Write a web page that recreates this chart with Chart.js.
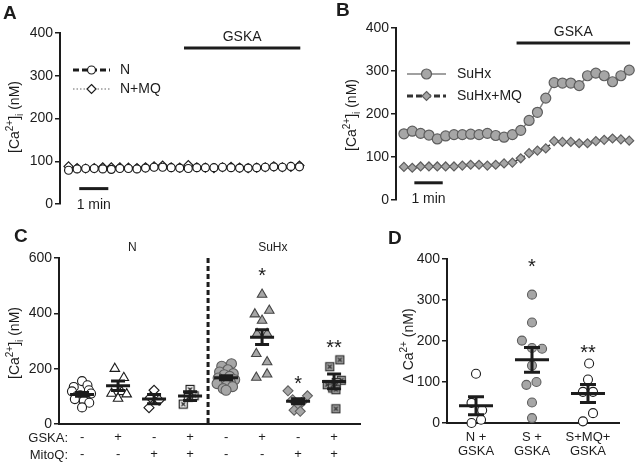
<!DOCTYPE html>
<html>
<head>
<meta charset="utf-8">
<style>
html, body { margin: 0; padding: 0; background: #fff; }
#wrap { position: relative; width: 640px; height: 465px; overflow: hidden; }
#wrap canvas { position: absolute; left: 0; top: 0; }
</style>
<script src="https://cdn.jsdelivr.net/npm/chart.js"></script>
</head>
<body>
<div id="wrap">
  <canvas id="chartA" width="640" height="465"></canvas>
  <canvas id="chartB" width="640" height="465"></canvas>
  <canvas id="chartC" width="640" height="465"></canvas>
  <canvas id="chartD" width="640" height="465"></canvas>
</div>
<script>
// ---- data ----

// A / B: [Ca2+]i traces (nM), one value per sample
const nTrace      = [79, 82, 83, 83, 82, 81, 83, 83, 82, 84, 86, 86, 85, 84, 83, 85, 85, 85, 86, 85, 84, 84, 85, 86, 87, 86, 88, 87];
const nMqTrace    = [88, 84, 83, 84, 86, 86, 86, 85, 84, 86, 88, 90, 86, 85, 91, 86, 85, 84, 86, 87, 85, 84, 85, 86, 88, 86, 87, 90];
const suhxTrace   = [154, 160, 155, 151, 142, 149, 152, 152, 153, 152, 155, 150, 146, 152, 162, 185, 204, 237, 273, 272, 272, 266, 289, 295, 289, 275, 289, 302];
const suhxMqTrace = [77, 75, 78, 78, 78, 78, 78, 80, 82, 82, 80, 82, 85, 87, 97, 109, 115, 120, 137, 135, 135, 132, 132, 137, 140, 143, 141, 138];
const gskaWindow  = [13.5, 27.1];   // samples under GSKA
const minuteBar   = [1.25, 4.65];   // 1 min scale bar, in samples

// C: individual cells per group
const gskaRow  = ['-', '+', '-', '+', '-', '+', '-', '+'];
const mitoqRow = ['-', '-', '+', '+', '-', '-', '+', '+'];
const cValues = [
  [155, 140, 134, 122, 118, 110, 104, 101, 98, 90, 84, 77, 60],
  [200, 167, 116, 110, 108, 92],
  [122, 96, 86, 59],
  [125, 102, 96, 72],
  [218, 209, 196, 188, 182, 178, 172, 166, 160, 155, 150, 146, 140, 135, 128, 122],
  [468, 410, 397, 374, 326, 326, 254, 224, 180, 168],
  [120, 102, 88, 78, 72, 50, 46],
  [232, 207, 158, 150, 142, 130, 124, 55]
];
const cJitter = [
  [0, 0.15, -0.23, 0.19, -0.28, 0.25, -0.05, -0.14, 0.09, -0.2, 0.05, 0.2, 0],
  [-0.09, 0.16, 0.1, -0.18, 0.24, 0],
  [0, -0.1, 0.14, -0.14],
  [0, 0.11, -0.05, -0.19],
  [0.15, -0.12, 0.05, -0.18, 0.2, -0.05, 0.1, -0.22, 0.24, -0.1, 0.12, -0.25, 0.02, 0.18, -0.08, 0],
  [0, 0.2, -0.2, 0, -0.14, 0.14, -0.16, 0.14, 0.14, -0.16],
  [-0.28, 0.26, -0.15, 0.1, 0, -0.11, 0.06],
  [0.16, -0.12, 0.2, 0.06, -0.19, -0.04, 0.05, 0.05]
];
const cMean = [107, 138, 90, 101, 167, 314, 82, 154];
const cSem  = [7, 17, 17, 16, 7, 27, 9, 27];
const cStars = ['', '', '', '', '', '*', '*', '**'];

// D: delta Ca2+ on GSKA
const dLabels = [['N +', 'GSKA'], ['S +', 'GSKA'], ['S+MQ+', 'GSKA']];
const dValues = [
  [120, 49, 31, 8, 0],
  [313, 245, 201, 181, 183, 140, 93, 100, 50, 12],
  [145, 106, 76, 76, 24, 4]
];
const dJitter = [
  [0, -0.08, 0.11, 0.09, -0.08],
  [0, 0, -0.18, 0.18, 0, 0, -0.1, 0.08, 0, 0],
  [0.02, 0, -0.09, 0.09, 0.09, -0.09]
];
const dMean = [42, 154, 72];
const dSem  = [22, 30, 22];
const dStars = ['', '*', '**'];

// ---- styling helpers ----
const FONT = '"Liberation Sans", Arial, Helvetica, sans-serif';
const INK = '#1c1c1c';
const GREY = '#a6a6a6';
const GREY_EDGE = '#5e5e5e';

const caTitle = [{t: '[Ca'}, {t: '2+', s: 1}, {t: ']'}, {t: 'i', s: -1}, {t: ' (nM)'}];
const deltaTitle = [{t: '\u0394 Ca'}, {t: '2+', s: 1}, {t: ' (nM)'}];

function boxCross(fill, edge) {
  // square marker with an x inside
  const c = document.createElement('canvas');
  c.width = 11; c.height = 11;
  const g = c.getContext('2d');
  g.fillStyle = fill;
  g.fillRect(1, 1, 9, 9);
  g.strokeStyle = edge;
  g.lineWidth = 1.2;
  g.strokeRect(1.5, 1.5, 8, 8);
  g.beginPath();
  g.moveTo(3.5, 3.5); g.lineTo(7.5, 7.5);
  g.moveTo(7.5, 3.5); g.lineTo(3.5, 7.5);
  g.stroke();
  return c;
}

function yAxis(max, step) {
  return {
    min: 0, max: max,
    afterFit: s => { s.width = 45; },
    ticks: { stepSize: step, color: INK, font: { family: FONT, size: 14 }, padding: 2 },
    grid: { drawOnChartArea: false, drawTicks: true, tickLength: 5, color: INK, lineWidth: 1.5 },
    border: { display: true, color: INK, width: 2 }
  };
}

function baseOptions(padding, xScale, yScale) {
  return {
    responsive: false,
    animation: false,
    devicePixelRatio: 1,
    layout: { padding: padding },
    scales: { x: xScale, y: yScale },
    plugins: { legend: { display: false }, tooltip: { enabled: false } }
  };
}

function vTitle(ctx, parts, cx, cy, size) {
  ctx.save();
  ctx.translate(cx, cy);
  ctx.rotate(-Math.PI / 2);
  ctx.fillStyle = INK;
  ctx.textAlign = 'left';
  ctx.textBaseline = 'alphabetic';
  const small = Math.round(size * 0.68);
  const fontOf = p => (p.s ? small : size) + 'px ' + FONT;
  const widths = parts.map(p => { ctx.font = fontOf(p); return ctx.measureText(p.t).width; });
  let x = -widths.reduce((a, b) => a + b, 0) / 2;
  const base = size * 0.36;
  parts.forEach((p, i) => {
    ctx.font = fontOf(p);
    const dy = p.s === 1 ? -size * 0.42 : (p.s === -1 ? size * 0.25 : 0);
    ctx.fillText(p.t, x, base + dy);
    x += widths[i];
  });
  ctx.restore();
}

function text(ctx, str, x, y, size, align, bold) {
  ctx.font = (bold ? 'bold ' : '') + size + 'px ' + FONT;
  ctx.fillStyle = INK;
  ctx.textAlign = align || 'center';
  ctx.textBaseline = 'middle';
  ctx.fillText(str, x, y);
}

function hBar(ctx, x0, x1, y, w) {
  ctx.strokeStyle = INK;
  ctx.lineWidth = w;
  ctx.setLineDash([]);
  ctx.beginPath();
  ctx.moveTo(x0, y);
  ctx.lineTo(x1, y);
  ctx.stroke();
}

function marker(ctx, style, x, y, r, fill, edge) {
  ctx.setLineDash([]);
  ctx.beginPath();
  if (style === 'rectRot') {
    ctx.moveTo(x, y - r); ctx.lineTo(x + r, y); ctx.lineTo(x, y + r); ctx.lineTo(x - r, y); ctx.closePath();
  } else {
    ctx.arc(x, y, r, 0, Math.PI * 2);
  }
  ctx.fillStyle = fill;
  ctx.fill();
  ctx.lineWidth = 1.2;
  ctx.strokeStyle = edge;
  ctx.stroke();
}

function star(ctx, str, x, yCenter) {
  ctx.font = '20px ' + FONT;
  ctx.fillStyle = INK;
  ctx.textAlign = 'center';
  ctx.textBaseline = 'alphabetic';
  ctx.fillText(str, x, yCenter + 11);
}

function meanSem(ctx, xs, ys, cx, mean, sem, halfW, capW) {
  const px = xs.getPixelForValue(cx);
  const pm = ys.getPixelForValue(mean);
  const pt = ys.getPixelForValue(mean + sem);
  const pb = ys.getPixelForValue(mean - sem);
  ctx.strokeStyle = INK;
  ctx.lineWidth = 3;
  ctx.setLineDash([]);
  ctx.beginPath();
  ctx.moveTo(px - halfW, pm); ctx.lineTo(px + halfW, pm);
  ctx.moveTo(px, pt); ctx.lineTo(px, pb);
  ctx.moveTo(px - capW, pt); ctx.lineTo(px + capW, pt);
  ctx.moveTo(px - capW, pb); ctx.lineTo(px + capW, pb);
  ctx.stroke();
}

// ---- A and B: time courses ----
function traceSet(label, values, st) {
  return {
    label: label,
    data: values.map((v, i) => ({ x: i, y: v })),
    showLine: true,
    borderColor: st.color,
    borderWidth: st.width,
    borderDash: st.dash,
    pointStyle: st.style,
    pointRadius: st.r,
    pointBackgroundColor: st.fill,
    pointBorderColor: st.edge,
    pointBorderWidth: 1.2,
    clip: false
  };
}

function traceDecor(cfg) {
  return {
    id: 'traceDecor',
    afterDraw(chart) {
      const { ctx, scales: { x, y } } = chart;
      ctx.save();
      // GSKA application
      const gy = y.getPixelForValue(365);
      const gx0 = x.getPixelForValue(gskaWindow[0]);
      const gx1 = x.getPixelForValue(gskaWindow[1]);
      hBar(ctx, gx0, gx1, gy, 3);
      text(ctx, 'GSKA', (gx0 + gx1) / 2, gy - 11, 14);
      // 1 min scale bar
      const my = y.getPixelForValue(cfg.minuteLevel);
      const mx0 = x.getPixelForValue(minuteBar[0]);
      const mx1 = x.getPixelForValue(minuteBar[1]);
      hBar(ctx, mx0, mx1, my, 3);
      text(ctx, '1 min', (mx0 + mx1) / 2, my + 16.5, 14);
      // legend, styled from the datasets
      chart.data.datasets.forEach((ds, i) => {
        const ly = cfg.legend.y + i * cfg.legend.gap;
        ctx.strokeStyle = ds.borderColor;
        ctx.lineWidth = cfg.legend.lw[i];
        ctx.setLineDash(cfg.legend.dash[i]);
        ctx.beginPath();
        ctx.moveTo(cfg.legend.x0, ly);
        ctx.lineTo(cfg.legend.x1, ly);
        ctx.stroke();
        marker(ctx, ds.pointStyle, (cfg.legend.x0 + cfg.legend.x1) / 2, ly, ds.pointRadius,
               ds.pointBackgroundColor, ds.pointBorderColor);
        text(ctx, ds.label, cfg.legend.tx, ly, 14, 'left');
      });
      vTitle(ctx, caTitle, cfg.titleX, cfg.titleY, 14);
      text(ctx, cfg.letter, cfg.letterX, cfg.letterY, 19, 'left', true);
      ctx.restore();
    }
  };
}

new Chart(document.getElementById('chartA'), {
  type: 'scatter',
  data: {
    datasets: [
      traceSet('N', nTrace, { color: INK, width: 2, dash: [6, 3], style: 'circle', r: 4, fill: '#fff', edge: INK }),
      traceSet('N+MQ', nMqTrace, { color: '#666', width: 1.2, dash: [1.5, 2], style: 'rectRot', r: 4.5, fill: '#fff', edge: INK })
    ]
  },
  options: baseOptions({ left: 15, top: 33, right: 332, bottom: 261 },
    { type: 'linear', display: false, min: -1, max: 28 }, yAxis(400, 100)),
  plugins: [traceDecor({
    minuteLevel: 36, letter: 'A', letterX: 3, letterY: 14, titleX: 14, titleY: 117,
    legend: { x0: 73, x1: 110, tx: 120, y: 70, gap: 19, lw: [3, 1.2], dash: [[6, 3], [1.5, 2]] }
  })]
});

new Chart(document.getElementById('chartB'), {
  type: 'scatter',
  data: {
    datasets: [
      traceSet('SuHx', suhxTrace, { color: '#808080', width: 1.5, dash: [], style: 'circle', r: 5, fill: GREY, edge: GREY_EDGE }),
      traceSet('SuHx+MQ', suhxMqTrace, { color: '#333', width: 1.5, dash: [4, 3], style: 'rectRot', r: 4.5, fill: GREY, edge: GREY_EDGE })
    ]
  },
  options: baseOptions({ left: 351, top: 28, right: 0, bottom: 265 },
    { type: 'linear', display: false, min: -0.95, max: 27.55 }, yAxis(400, 100)),
  plugins: [traceDecor({
    minuteLevel: 40, letter: 'B', letterX: 336, letterY: 11, titleX: 351, titleY: 115,
    legend: { x0: 407, x1: 446, tx: 457, y: 74, gap: 22, lw: [1.5, 3], dash: [[], [6, 3]] }
  })]
});

// ---- C: scatter of cells per condition ----
const cStyles = [
  { style: 'circle', r: 4.5, fill: '#fff', edge: INK },
  { style: 'triangle', r: 5.5, fill: '#fff', edge: INK },
  { style: 'rectRot', r: 5, fill: '#fff', edge: INK },
  { style: boxCross('#fff', INK), r: 5, fill: '#fff', edge: INK },
  { style: 'circle', r: 5, fill: GREY, edge: GREY_EDGE },
  { style: 'triangle', r: 5.5, fill: GREY, edge: '#444' },
  { style: 'rectRot', r: 5, fill: GREY, edge: GREY_EDGE },
  { style: boxCross(GREY, '#333'), r: 5, fill: GREY, edge: '#333' }
];

new Chart(document.getElementById('chartC'), {
  type: 'scatter',
  data: {
    datasets: cValues.map((vals, g) => ({
      data: vals.map((v, k) => ({ x: g + cJitter[g][k], y: v })),
      pointStyle: cStyles[g].style,
      pointRadius: cStyles[g].r,
      pointBackgroundColor: cStyles[g].fill,
      pointBorderColor: cStyles[g].edge,
      pointBorderWidth: 1.1,
      clip: false
    }))
  },
  options: baseOptions({ left: 14, top: 258, right: 280, bottom: 0 },
    {
      type: 'linear', min: -0.64, max: 7.72,
      afterFit: s => { s.height = 41; },
      afterBuildTicks: s => { s.ticks = gskaRow.map((_, i) => ({ value: i })); },
      ticks: {
        autoSkip: false, maxRotation: 0, padding: 5, color: INK,
        font: { family: FONT, size: 13, lineHeight: 1.3 },
        callback: v => [gskaRow[Math.round(v)], mitoqRow[Math.round(v)]]
      },
      grid: { display: false, drawTicks: false },
      border: { display: true, color: INK, width: 2 }
    },
    yAxis(600, 200)),
  plugins: [{
    id: 'cDecor',
    afterDatasetsDraw(chart) {
      const { ctx, scales: { x, y } } = chart;
      ctx.save();
      cMean.forEach((m, g) => meanSem(ctx, x, y, g, m, cSem[g], 12, 7));
      ctx.restore();
    },
    afterDraw(chart) {
      const { ctx, chartArea, scales: { x, y } } = chart;
      ctx.save();
      // N | SuHx separator
      const sx = x.getPixelForValue(3.5);
      ctx.strokeStyle = INK;
      ctx.lineWidth = 3;
      ctx.setLineDash([5, 3]);
      ctx.beginPath();
      ctx.moveTo(sx, chartArea.top);
      ctx.lineTo(sx, chartArea.bottom);
      ctx.stroke();
      ctx.setLineDash([]);
      text(ctx, 'N', x.getPixelForValue(1.4), chartArea.top - 10, 12);
      text(ctx, 'SuHx', x.getPixelForValue(5.3), chartArea.top - 10, 12);
      text(ctx, 'GSKA:', 68, x.top + 14, 13, 'right');
      text(ctx, 'MitoQ:', 68, x.top + 31, 13, 'right');
      const starLevel = [0, 0, 0, 0, 0, 554, 161, 293];
      cStars.forEach((s, g) => { if (s) star(ctx, s, x.getPixelForValue(g), y.getPixelForValue(starLevel[g])); });
      vTitle(ctx, caTitle, 14, 343, 14);
      text(ctx, 'C', 14, 237, 19, 'left', true);
      ctx.restore();
    }
  }]
});

// ---- D: delta Ca2+ ----
new Chart(document.getElementById('chartD'), {
  type: 'scatter',
  data: {
    datasets: dValues.map((vals, g) => ({
      data: vals.map((v, k) => ({ x: g + dJitter[g][k], y: v })),
      pointStyle: 'circle',
      pointRadius: 4.5,
      pointBackgroundColor: g === 1 ? GREY : '#fff',
      pointBorderColor: g === 1 ? GREY_EDGE : INK,
      pointBorderWidth: 1.1,
      clip: false
    }))
  },
  options: baseOptions({ left: 402, top: 259, right: 21, bottom: 0 },
    {
      type: 'linear', min: -0.518, max: 2.554,
      afterFit: s => { s.height = 42; },
      afterBuildTicks: s => { s.ticks = dLabels.map((_, i) => ({ value: i })); },
      ticks: {
        autoSkip: false, maxRotation: 0, padding: 7, color: INK,
        font: { family: FONT, size: 13, lineHeight: 1.08 },
        callback: v => dLabels[Math.round(v)]
      },
      grid: { display: false, drawTicks: false },
      border: { display: true, color: INK, width: 2 }
    },
    yAxis(400, 100)),
  plugins: [{
    id: 'dDecor',
    afterDatasetsDraw(chart) {
      const { ctx, scales: { x, y } } = chart;
      ctx.save();
      dMean.forEach((m, g) => meanSem(ctx, x, y, g, m, dSem[g], 17, 8));
      ctx.restore();
    },
    afterDraw(chart) {
      const { ctx, scales: { x, y } } = chart;
      ctx.save();
      const starLevel = [0, 393, 182];
      dStars.forEach((s, g) => { if (s) star(ctx, s, x.getPixelForValue(g), y.getPixelForValue(starLevel[g])); });
      vTitle(ctx, deltaTitle, 408, 346, 14);
      text(ctx, 'D', 388, 239, 19, 'left', true);
      ctx.restore();
    }
  }]
});
</script>
</body>
</html>
